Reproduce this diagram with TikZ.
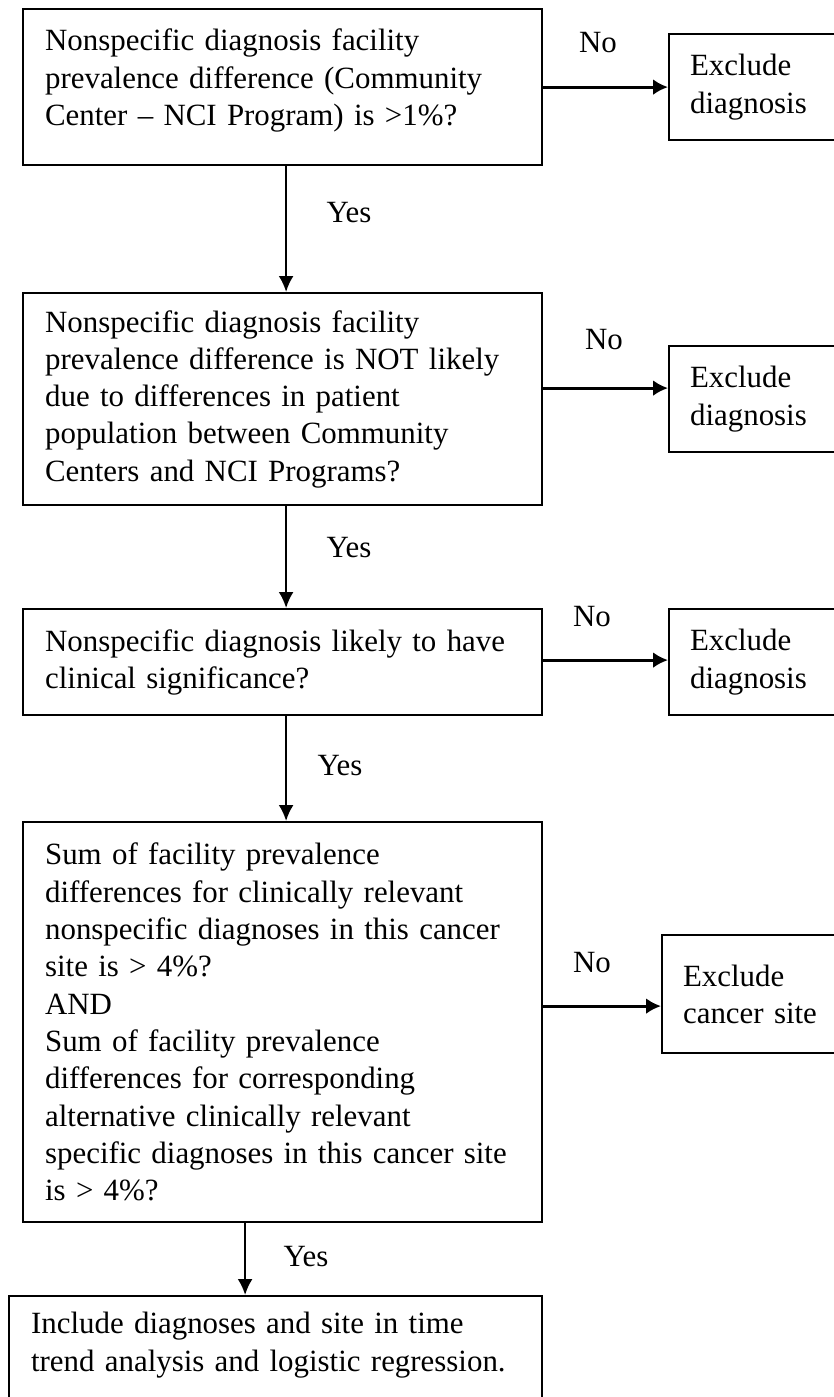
\documentclass[tikz,border=0pt]{standalone}
\usepackage{fontspec}
\setmainfont{Liberation Serif}
\usetikzlibrary{arrows.meta}

\tikzset{
  qbox/.style={draw, line width=2.2pt, anchor=north west, align=left,
    inner xsep=22pt, inner ysep=0pt, text width=475pt, minimum width=519pt},
  xbox/.style={draw, line width=2.2pt, anchor=north west, align=left,
    inner xsep=21pt, inner ysep=0pt, text width=160pt, minimum width=202pt},
  lbl/.style={inner sep=0pt},
  yesarr/.style={line width=2.2pt, -{Latex[length=16pt,width=15pt]}},
  noarr/.style={line width=3.2pt, -{Latex[length=15pt,width=16pt]}},
}

\begin{document}
\begin{tikzpicture}[x=1pt, y=-1pt, font=\fontsize{30.9}{37.3}\selectfont]
  \useasboundingbox (0,0) rectangle (834,1397);

  % question boxes
  \node[qbox, minimum height=156pt, text depth=94pt] (q1) at (22,8)
    {Nonspecific diagnosis facility\\
     prevalence difference (Community\\
     Center -- NCI Program) is >1\%?};
  \node[qbox, minimum height=212pt] (q2) at (22,292)
    {Nonspecific diagnosis facility\\
     prevalence difference is NOT likely\\
     due to differences in patient\\
     population between Community\\
     Centers and NCI Programs?};
  \node[qbox, minimum height=106pt] (q3) at (22,608)
    {Nonspecific diagnosis likely to have\\
     clinical significance?};
  \node[qbox, minimum height=400pt] (q4) at (22,821)
    {Sum of facility prevalence\\
     differences for clinically relevant\\
     nonspecific diagnoses in this cancer\\
     site is > 4\%?\\
     AND\\
     Sum of facility prevalence\\
     differences for corresponding\\
     alternative clinically relevant\\
     specific diagnoses in this cancer site\\
     is > 4\%?};
  \node[qbox, text width=489pt, minimum width=533pt, minimum height=130pt,
    text depth=76pt] (q5) at (8,1295)
    {Include diagnoses and site in time\\
     trend analysis and logistic regression.};

  % exclusion boxes
  \node[xbox, minimum height=106pt] (x1) at (668,33) {Exclude\\ diagnosis};
  \node[xbox, minimum height=106pt] (x2) at (668,345) {Exclude\\ diagnosis};
  \node[xbox, minimum height=106pt] (x3) at (668,608) {Exclude\\ diagnosis};
  \node[xbox, minimum height=118pt] (x4) at (661,934) {Exclude\\ cancer site};

  % yes branch
  \draw[yesarr] ([xshift=3.5pt]q1.south) -- ([xshift=3.5pt]q2.north);
  \draw[yesarr] ([xshift=3.5pt]q2.south) -- ([xshift=3.5pt]q3.north);
  \draw[yesarr] ([xshift=3.5pt]q3.south) -- ([xshift=3.5pt]q4.north);
  \draw[yesarr] ([xshift=-37.5pt]q4.south) -- ([xshift=-37.5pt]q4.south |- q5.north);
  \node[lbl] (yes1) at (349,213) {Yes};
  \node[lbl] (yes2) at (349,548) {Yes};
  \node[lbl] (yes3) at (340,766) {Yes};
  \node[lbl] (yes4) at (306,1257) {Yes};

  % no branch
  \draw[noarr] (x1.west -| q1.east) -- (x1.west);
  \draw[noarr] ([yshift=11pt]x2.west -| q2.east) -- ([yshift=11pt]x2.west);
  \draw[noarr] ([yshift=2pt]x3.west -| q3.east) -- ([yshift=2pt]x3.west);
  \draw[noarr] ([yshift=-12pt]x4.west -| q4.east) -- ([yshift=-12pt]x4.west);
  \node[lbl] (no1) at (598,43) {No};
  \node[lbl] (no2) at (604,340) {No};
  \node[lbl] (no3) at (592,617) {No};
  \node[lbl] (no4) at (592,963) {No};
\end{tikzpicture}
\end{document}
